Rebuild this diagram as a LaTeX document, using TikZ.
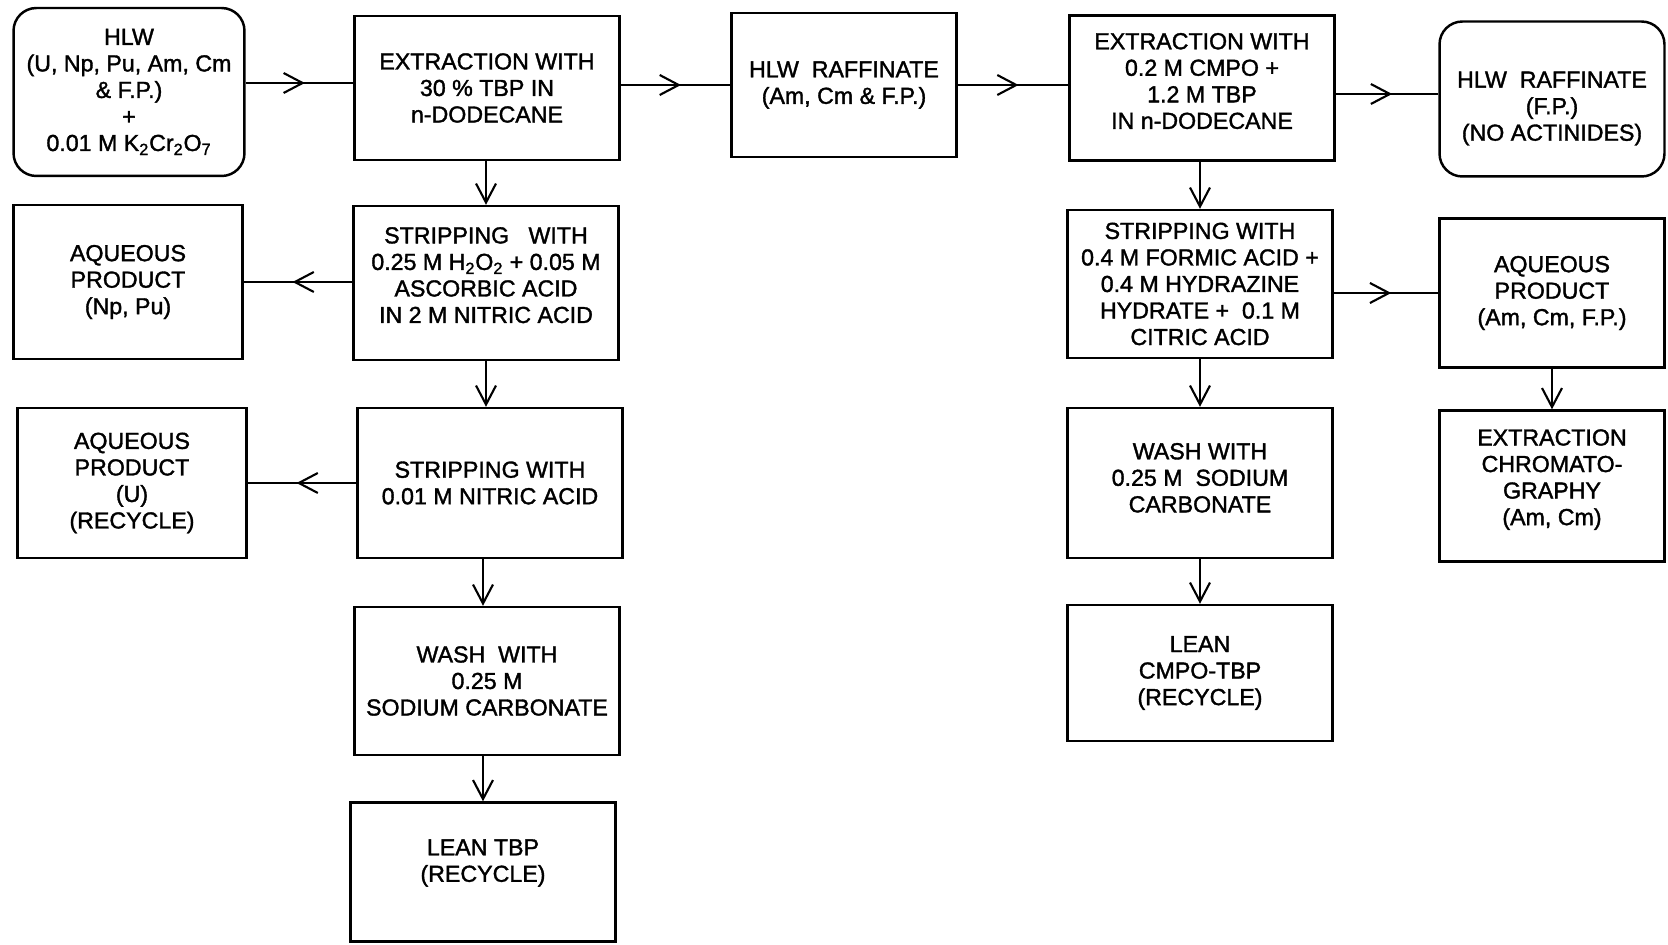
\documentclass[tikz,border=0pt]{standalone}
\usepackage{fontspec}
\setmainfont{Liberation Sans}
\newfontfamily\boxfont{Liberation Sans}[FakeBold=1.5]
\usetikzlibrary{arrows.meta,decorations.markings}
\newcommand{\lowtext}[1]{\rule{0pt}{#1}}        % pushes text down
\newcommand{\hightext}[1]{\rule[-#1]{0pt}{0pt}} % pushes text up
\tikzset{
    box/.style ={
        rectangle,              % column box
        draw,
        line width = 1.4pt,
        minimum width  = 5.3cm,
        minimum height = 2.96cm,
        inner sep = 2pt,
        align = center,
        font = \boxfont\fontsize{13.2}{15.1}\selectfont
    },
    sidebox/.style ={
        box,
        minimum width  = 4.5cm,
        minimum height = 3.0cm
    },
    endbox/.style ={
        sidebox,
        rounded corners = 13pt  % rounded ends
    },
    flow/.style ={
        line width = 1.2pt,
        -{Straight Barb[length=0.38cm,width=0.4cm,line width=1.2pt]}
    },
    midflow/.style ={
        line width = 1.2pt,
        postaction = {decorate},
        decoration = {markings,
            mark = at position 0.55 with {\arrow{Straight Barb[length=0.38cm,width=0.4cm,line width=1.2pt]}}}
    }
}

\begin{document}
\begin{tikzpicture}[x=0.02cm,y=-0.02cm]
    \useasboundingbox (0,0) rectangle (1668,945);
    % top row
    \node[endbox, minimum width=4.62cm, minimum height=3.36cm] (1) at(129,92) {HLW\\(U, Np, Pu, Am, Cm\\\& F.P.)\\+\\0.01 M K\textsubscript{2}Cr\textsubscript{2}O\textsubscript{7}};
    \node[box, minimum height=2.88cm] (2) at(487,88) {EXTRACTION WITH\\30 \% TBP IN\\n-DODECANE};
    \node[sidebox, minimum height=2.88cm] (3) at(844,85) {HLW~~RAFFINATE\\(Am, Cm \& F.P.)};
    \node[box, minimum height=2.9cm] (4) at(1202,88) {EXTRACTION WITH\\0.2 M CMPO +\\1.2 M TBP\\IN n-DODECANE\hightext{8pt}};
    \node[endbox, minimum height=3.1cm] (5) at(1552,99) {\lowtext{20pt}HLW~~RAFFINATE\\(F.P.)\\(NO ACTINIDES)};
    % second row
    \node[sidebox, minimum width=4.58cm, minimum height=3.08cm] (6) at(128,282) {AQUEOUS\\PRODUCT\\(Np, Pu)};
    \node[box, minimum height=3.08cm] (7) at(486,283) {STRIPPING~~~WITH\\0.25 M H\textsubscript{2}O\textsubscript{2} + 0.05 M\\ASCORBIC ACID\\IN 2 M NITRIC ACID\hightext{9pt}};
    \node[box] (8) at(1200,284) {STRIPPING WITH\\0.4 M FORMIC ACID +\\0.4 M HYDRAZINE\\HYDRATE +~~0.1 M\\CITRIC ACID};
    \node[sidebox, minimum height=2.98cm] (9) at(1552,293) {AQUEOUS\\PRODUCT\\(Am, Cm, F.P.)};
    % third row
    \node[sidebox, minimum width=4.58cm] (10) at(132,483) {AQUEOUS\\PRODUCT\\(U)\\(RECYCLE)};
    \node[box, minimum height=3.0cm] (11) at(490,483) {STRIPPING WITH\\0.01 M NITRIC ACID};
    \node[box, minimum height=3.0cm] (12) at(1200,483) {WASH WITH\\0.25 M~~SODIUM\\CARBONATE\hightext{6pt}};
    \node[sidebox, minimum height=3.02cm] (13) at(1552,486) {EXTRACTION\\CHROMATO-\\GRAPHY\\(Am, Cm)\hightext{10pt}};
    % bottom rows
    \node[box] (14) at(487,681) {WASH~~WITH\\0.25 M\\SODIUM CARBONATE};
    \node[box, minimum height=2.72cm] (15) at(1200,673) {LEAN\\CMPO-TBP\\(RECYCLE)};
    \node[box, minimum height=2.78cm] (16) at(483,872) {LEAN TBP\\(RECYCLE)\hightext{13pt}};
    % connectors
    \draw[midflow] (1.east |- 0,83) -- (2.west |- 0,83);
    \draw[midflow] (2.east |- 3.west) -- (3.west);
    \draw[midflow] (3.east) -- (3.east -| 4.west);
    \draw[midflow] (4.east |- 0,94) -- (5.west |- 0,94);
    \draw[midflow] (7.west |- 6.east) -- (6.east);
    \draw[midflow] (11.west) -- (10.east);
    \draw[midflow] (8.east |- 9.west) -- (9.west);
    \draw[flow] (7.north |- 2.south) -- (7.north);
    \draw[flow] (7.south) -- (7.south |- 11.north);
    \draw[flow] (16.north |- 11.south) -- (16.north |- 14.north);
    \draw[flow] (14.south -| 16.north) -- (16.north);
    \draw[flow] (4.south -| 8.north) -- (8.north);
    \draw[flow] (8.south) -- (12.north);
    \draw[flow] (12.south) -- (15.north);
    \draw[flow] (9.south) -- (13.north);
\end{tikzpicture}
\end{document}
